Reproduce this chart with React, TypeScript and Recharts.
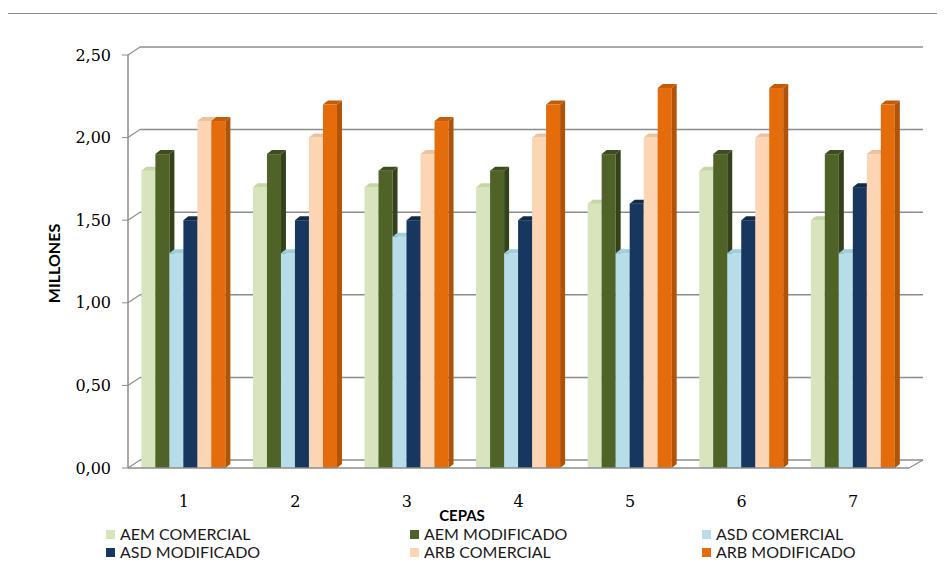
import { BarChart, Bar, XAxis, YAxis, CartesianGrid, Legend } from 'recharts';

const categories = ['1', '2', '3', '4', '5', '6', '7'];

const aemComercial = [1.8, 1.7, 1.7, 1.7, 1.6, 1.8, 1.5];
const aemModificado = [1.9, 1.9, 1.8, 1.8, 1.9, 1.9, 1.9];
const asdComercial = [1.3, 1.3, 1.4, 1.3, 1.3, 1.3, 1.3];
const asdModificado = [1.5, 1.5, 1.5, 1.5, 1.6, 1.5, 1.7];
const arbComercial = [2.1, 2.0, 1.9, 2.0, 2.0, 2.0, 1.9];
const arbModificado = [2.1, 2.2, 2.1, 2.2, 2.3, 2.3, 2.2];

const yTicks = [0, 0.5, 1, 1.5, 2, 2.5];

const series = [
	{ key: 'aemCom', name: 'AEM COMERCIAL', values: aemComercial, fill: '#d7e4bd', side: '#b2c291', top: '#c6d6a6' },
	{ key: 'aemMod', name: 'AEM MODIFICADO', values: aemModificado, fill: '#4f6228', side: '#34421a', top: '#3d4d1f' },
	{ key: 'asdCom', name: 'ASD COMERCIAL', values: asdComercial, fill: '#b7dde8', side: '#8cbccb', top: '#a0cfdc' },
	{ key: 'asdMod', name: 'ASD MODIFICADO', values: asdModificado, fill: '#17375e', side: '#0d233e', top: '#112b4b' },
	{ key: 'arbCom', name: 'ARB COMERCIAL', values: arbComercial, fill: '#fcd5b5', side: '#ddb089', top: '#ecc19c' },
	{ key: 'arbMod', name: 'ARB MODIFICADO', values: arbModificado, fill: '#e46c0a', side: '#b05207', top: '#c55d08' },
];

const data = categories.map((cat, i) => {
	const row: any = { cat };
	series.forEach((s) => {
		row[s.key] = s.values[i];
	});
	return row;
});

const DX = 5;
const DY = 4;

function Bar3D(props: any) {
	const { x, y, width, height, fill, side, top } = props;
	if (height == null || width == null) return null;
	const r = x + width;
	const b = y + height;
	return (
		<g>
			<rect x={x} y={y} width={width} height={height} fill={fill} />
			<polygon points={`${r},${y} ${r + DX},${y - DY} ${r + DX},${b - DY} ${r},${b}`} fill={side} />
			<polygon points={`${x},${y} ${x + DX},${y - DY} ${r + DX},${y - DY} ${r},${y}`} fill={top} />
		</g>
	);
}

// back wall gridlines, shifted up/right from the front axis
function GridLine3D(props: any) {
	const { x1, y1, x2, index } = props;
	const isFloor = props.y != null && props.height != null ? Math.abs(y1 - (props.y + props.height)) < 1 : index === 0;
	return (
		<g key={props.key}>
			<line x1={x1} y1={y1} x2={x1 + 12} y2={y1 - 8} stroke="#8c8c8c" strokeWidth={1.2} />
			<line x1={x1 + 12} y1={y1 - 8} x2={x2 + 14} y2={y1 - 8} stroke="#8c8c8c" strokeWidth={1.5} />
			{isFloor && <line x1={x2} y1={y1} x2={x2 + 14} y2={y1 - 8} stroke="#8c8c8c" strokeWidth={1.2} />}
		</g>
	);
}

const legendCols = [106, 410, 702];
const legendRows = [525, 543];

function renderLegend(props: any) {
	const payload = props.payload || [];
	return (
		<div style={{ position: 'relative', height: 0 }}>
			{series.map((s, i) => {
				const entry = payload.find((e: any) => e.value === s.name);
				return (
					<div
						key={s.key}
						style={{
							position: 'absolute',
							left: legendCols[i % 3],
							top: legendRows[Math.floor(i / 3)],
							display: 'flex',
							alignItems: 'center',
							height: 18,
							lineHeight: '18px',
							whiteSpace: 'nowrap',
							fontSize: 16,
							color: '#1a1a1a',
						}}
					>
						<span style={{ width: 9, height: 9, background: entry ? entry.color : s.fill, marginRight: 5 }} />
						{s.name}
					</div>
				);
			})}
		</div>
	);
}

export default function App() {
	return (
		<div style={{ position: 'relative', width: 945, height: 568, margin: -8, fontFamily: 'Lato, sans-serif' }}>
			<div
				style={{
					position: 'absolute',
					left: 7,
					top: 13,
					width: 937,
					height: 554,
					borderTop: '1px solid #8c8c8c',
					borderLeft: '1px solid #8c8c8c',
					pointerEvents: 'none',
				}}
			/>
			<BarChart
				width={945}
				height={568}
				data={data}
				margin={{ top: 55, right: 36, left: 0, bottom: 0 }}
				barCategoryGap="12%"
				barGap={0}
			>
				<CartesianGrid vertical={false} horizontal={(p: any) => <GridLine3D {...p} />} />
				<XAxis
					dataKey="cat"
					height={100}
					tickLine={false}
					tickMargin={22}
					axisLine={{ stroke: '#8c8c8c', strokeWidth: 1.5 }}
					tick={{ fill: '#000', fontSize: 16, fontFamily: 'DejaVu Serif' }}
					label={{
						content: (lp: any) => {
							const vb = lp.viewBox || { x: 128, y: 468 };
							return (
								<text x={vb.x + 334} y={vb.y + 53} textAnchor="middle" fontWeight="bold" fontSize={15} fill="#000">
									CEPAS
								</text>
							);
						},
					}}
				/>
				<YAxis
					width={128}
					domain={[0, 2.5]}
					ticks={yTicks}
					tickSize={6}
					tickMargin={11}
					tickFormatter={(v: number) => v.toFixed(2).replace('.', ',')}
					axisLine={{ stroke: '#8c8c8c', strokeWidth: 1.5 }}
					tickLine={{ stroke: '#8c8c8c' }}
					tick={{ fill: '#000', fontSize: 16, fontFamily: 'DejaVu Serif' }}
					label={{
						content: (lp: any) => {
							const vb = lp.viewBox || { x: 0, y: 55, height: 413 };
							const cx = vb.x + 53;
							const cy = vb.y + vb.height / 2 + 2;
							return (
								<text
									x={cx}
									y={cy}
									transform={`rotate(-90, ${cx}, ${cy})`}
									textAnchor="middle"
									dominantBaseline="central"
									fontWeight="bold"
									fontSize={16}
									fill="#000"
								>
									MILLONES
								</text>
							);
						},
					}}
				/>
				<Legend content={renderLegend} wrapperStyle={{ left: 0, top: 0, width: 945, height: 0 }} />
				{series.map((s) => (
					<Bar
						key={s.key}
						dataKey={s.key}
						name={s.name}
						fill={s.fill}
						isAnimationActive={false}
						shape={(p: any) => <Bar3D {...p} side={s.side} top={s.top} />}
					/>
				))}
			</BarChart>
		</div>
	);
}
